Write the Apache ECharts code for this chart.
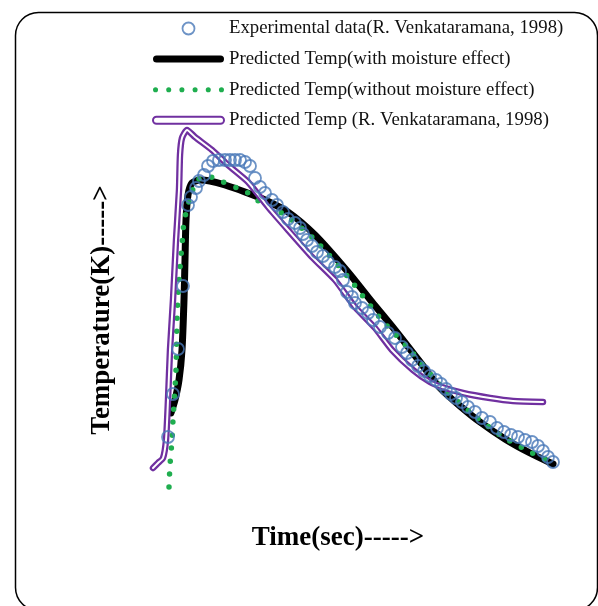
<!DOCTYPE html>
<html>
<head>
<meta charset="utf-8">
<script src="https://cdn.jsdelivr.net/npm/echarts@6/dist/echarts.min.js"></script>
<style>
  html, body { margin: 0; padding: 0; background: #fff; }
  #chart { width: 598px; height: 606px; }
</style>
</head>
<body>
<div id="chart"></div>
<script>
// experimental points (time, temperature)
const expTime = [18, 23, 28, 33, 38, 41, 46, 49, 54, 58, 63, 69, 75, 80, 85, 90, 95, 100, 105, 110,
  115, 122, 127, 133, 138, 145, 150, 153, 157, 162, 167, 173, 178, 185, 190, 193, 197, 202, 205, 212,
  218, 223, 230, 238, 245, 252, 257, 262, 268, 274, 280, 286, 291, 296, 301, 306, 312, 318, 325, 332,
  340, 347, 354, 361, 368, 375, 382, 388, 393, 398, 403];
const expTemp = [353, 396, 441, 504, 585, 593, 602, 609, 615, 624, 629, 630, 630, 630, 630, 630, 628, 624, 612, 603,
  597, 590, 585, 578, 571, 567, 562, 556, 550, 544, 538, 534, 528, 523, 519, 510, 498, 493, 487, 482,
  477, 470, 463, 457, 452, 443, 437, 430, 424, 419, 414, 410, 406, 401, 396, 392, 388, 383, 378, 372,
  368, 362, 358, 355, 353, 350, 348, 344, 339, 333, 328];

// predicted, with moisture effect
const wetTime = [21, 25, 29, 32, 34, 35, 36, 38, 42, 50, 60, 75, 95, 115, 138, 165, 198, 222, 245, 270, 290, 310, 330, 355, 380, 403];
const wetTemp = [377, 390, 410, 440, 490, 530, 570, 595, 607, 610, 609, 605, 598, 590, 578, 555, 518, 488, 460, 428, 402, 384, 368, 351, 337, 326];

// predicted, without moisture effect
const dryTime = [19, 20, 22, 23, 26, 27, 29, 32, 34, 38, 42, 47, 60, 73, 87, 98, 110, 135, 165, 198, 230, 260, 290, 320, 350, 380, 403];
const dryTemp = [303, 325, 350, 370, 420, 470, 510, 545, 568, 585, 598, 610, 613, 608, 602, 597, 588, 575, 550, 513, 472, 440, 405, 378, 355, 338, 327];

// predicted, R. Venkataramana 1998
const venkTime = [3, 8, 13, 16, 18, 20, 23, 26, 29, 30, 32, 37, 45, 62, 78, 98, 118, 138, 162, 185, 205, 225, 242, 263, 280, 292, 313, 340, 363, 393];
const venkTemp = [322, 327, 332, 350, 390, 440, 490, 550, 600, 635, 652, 660, 653, 640, 625, 608, 583, 560, 533, 510, 483, 462, 440, 420, 408, 403, 397, 392, 389, 388];

const names = [
  'Experimental data(R. Venkataramana, 1998)',
  'Predicted Temp(with moisture effect)',
  'Predicted Temp(without moisture effect)',
  'Predicted Temp (R. Venkataramana, 1998)'
];
const blue = '#4878b8', green = '#1fae4f', purple = '#7030a0';

// legend icons: capsule (thick line) and a row of six dots
const capsule = 'path://M3.5,0 L67.5,0 A3.5,3.5 0 0 1 67.5,7 L3.5,7 A3.5,3.5 0 0 1 3.5,0 Z';
const dots = 'path://' + [0, 13, 26, 39, 52, 65].map(x =>
  `M${x},2.5 A2.5,2.5 0 1 0 ${x + 5},2.5 A2.5,2.5 0 1 0 ${x},2.5 Z`).join(' ');

function pairs(xs, ys) {
  return xs.map((x, i) => [x, ys[i]]);
}

const chart = echarts.init(document.getElementById('chart'));
const option = {
  backgroundColor: '#fff',
  animation: false,
  graphic: [{
    type: 'rect',
    left: 13, top: 10,
    shape: { width: 582, height: 598, r: 23 },
    style: { fill: 'none', stroke: '#000', lineWidth: 1.5 },
    z: -1
  }],
  legend: {
    orient: 'vertical',
    left: 147,
    top: 14,
    itemWidth: 71,
    itemHeight: 12,
    itemGap: 11.6,
    textStyle: { fontFamily: 'Liberation Serif', fontSize: 18.8, color: '#111' },
    data: [
      { name: names[0], icon: 'circle',
        itemStyle: { color: 'transparent', borderColor: blue, borderWidth: 1.8 } },
      { name: names[1], icon: capsule,
        itemStyle: { color: '#000', borderWidth: 0 } },
      { name: names[2], icon: dots,
        itemStyle: { color: green, borderWidth: 0 } },
      { name: names[3], icon: capsule,
        itemStyle: { color: '#fff', borderColor: purple, borderWidth: 2 } }
    ]
  },
  grid: { left: 150, right: 38, top: 120, bottom: 116 },
  xAxis: {
    type: 'value', min: 0, max: 410,
    name: 'Time(sec)----->',
    nameLocation: 'middle',
    nameGap: 35,
    nameTextStyle: { fontFamily: 'Liberation Serif', fontWeight: 'bold', fontSize: 27, color: '#000', padding: [0, 34, 0, 0] },
    axisLine: { show: false }, axisTick: { show: false }, axisLabel: { show: false }, splitLine: { show: false }
  },
  yAxis: {
    type: 'value', min: 300, max: 670,
    name: 'Temperature(K)----->',
    nameLocation: 'middle',
    nameGap: 34,
    nameTextStyle: { fontFamily: 'Liberation Serif', fontWeight: 'bold', fontSize: 27, color: '#000', padding: [0, 10, 0, 0] },
    axisLine: { show: false }, axisTick: { show: false }, axisLabel: { show: false }, splitLine: { show: false }
  },
  series: [
    {
      name: names[1], type: 'line', data: pairs(wetTime, wetTemp),
      smooth: 0.25, showSymbol: false, symbol: 'none',
      lineStyle: { color: '#000', width: 7, cap: 'round', join: 'round' },
      itemStyle: { color: '#000' }, z: 2
    },
    {
      name: names[2], type: 'line', data: pairs(dryTime, dryTemp),
      smooth: 0.25, showSymbol: false, symbol: 'none',
      lineStyle: { color: green, width: 5.5, type: [0, 13], cap: 'round' },
      itemStyle: { color: green }, z: 3
    },
    {
      name: names[3], type: 'line', data: pairs(venkTime, venkTemp),
      smooth: 0.2, showSymbol: false, symbol: 'none',
      lineStyle: { color: purple, width: 6.5, cap: 'round', join: 'round' },
      itemStyle: { color: purple }, z: 4
    },
    {
      name: 'venk-inner', type: 'line', data: pairs(venkTime, venkTemp),
      smooth: 0.2, showSymbol: false, symbol: 'none',
      lineStyle: { color: '#fff', width: 2, cap: 'round', join: 'round' },
      itemStyle: { color: '#fff' }, z: 5
    },
    {
      name: names[0], type: 'scatter', data: pairs(expTime, expTemp),
      symbol: 'circle', symbolSize: 12,
      itemStyle: { color: 'transparent', borderColor: blue, borderWidth: 1.8 }, z: 6
    }
  ]
};
chart.setOption(option);
</script>
</body>
</html>
